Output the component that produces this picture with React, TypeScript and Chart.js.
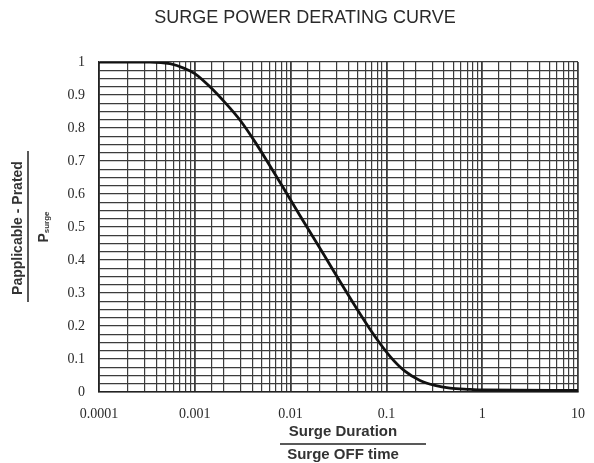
import React, { useEffect, useRef } from "react";
import { Chart, registerables } from "chart.js";

Chart.register(...registerables);

const durationRatio = [0.0001, 0.00034, 0.00055, 0.00079, 0.001, 0.00144, 0.00207, 0.003, 0.00425, 0.0061, 0.00875, 0.0125, 0.018, 0.0258, 0.037, 0.053, 0.076, 0.109, 0.156, 0.224, 0.321, 0.461, 0.75, 1, 10];
const powerRatio = [1, 1, 0.995, 0.98, 0.965, 0.925, 0.877, 0.822, 0.758, 0.685, 0.61, 0.535, 0.46, 0.385, 0.31, 0.237, 0.168, 0.108, 0.063, 0.035, 0.02, 0.012, 0.008, 0.006, 0.005];
const xTickLabels = ["0.0001", "0.001", "0.01", "0.1", "1", "10"];
const yTickLabels = ["0", "0.1", "0.2", "0.3", "0.4", "0.5", "0.6", "0.7", "0.8", "0.9", "1"];

const chartTitle = "SURGE POWER DERATING CURVE";
const xTitleTop = "Surge Duration";
const xTitleBottom = "Surge OFF time";
const yTitleTop = "Papplicable - Prated";
const yTitleBottomMain = "P";
const yTitleBottomSub = "surge";

const textPlugin = {
  id: "textPlugin",
  afterDraw(chart: any) {
    const ctx = chart.ctx;
    ctx.save();
    ctx.fillStyle = "#2a2a2a";
    ctx.textAlign = "center";
    ctx.textBaseline = "middle";
    ctx.font = "18px 'Liberation Sans', Arial, sans-serif";
    ctx.fillText(chartTitle, 305, 18);

    // x title fraction
    ctx.font = "bold 15px 'Liberation Sans', Arial, sans-serif";
    ctx.fillStyle = "#333";
    ctx.fillText(xTitleTop, 343, 432);
    ctx.fillText(xTitleBottom, 343, 455);
    ctx.strokeStyle = "#222";
    ctx.lineWidth = 1.5;
    ctx.beginPath();
    ctx.moveTo(280, 444);
    ctx.lineTo(426, 444);
    ctx.stroke();

    // y title fraction
    ctx.save();
    ctx.translate(18, 228);
    ctx.rotate(-Math.PI / 2);
    ctx.font = "bold 14px 'Liberation Sans', Arial, sans-serif";
    ctx.fillText(yTitleTop, 0, 0);
    ctx.restore();

    ctx.beginPath();
    ctx.moveTo(28, 151);
    ctx.lineTo(28, 302);
    ctx.stroke();

    ctx.save();
    ctx.translate(44, 227);
    ctx.rotate(-Math.PI / 2);
    ctx.font = "bold 14px 'Liberation Sans', Arial, sans-serif";
    const wMain = ctx.measureText(yTitleBottomMain).width;
    ctx.font = "bold 8px 'Liberation Sans', Arial, sans-serif";
    const wSub = ctx.measureText(yTitleBottomSub).width;
    const start = -(wMain + wSub) / 2;
    ctx.textAlign = "left";
    ctx.font = "bold 14px 'Liberation Sans', Arial, sans-serif";
    ctx.fillText(yTitleBottomMain, start, 0);
    ctx.font = "bold 8px 'Liberation Sans', Arial, sans-serif";
    ctx.fillText(yTitleBottomSub, start + wMain, 3);
    ctx.restore();

    ctx.restore();
  },
};

function isDecade(v: number) {
  const l = Math.log10(v);
  return Math.abs(l - Math.round(l)) < 1e-6;
}

export default function App() {
  const ref = useRef<HTMLCanvasElement | null>(null);
  useEffect(() => {
    if (!ref.current) return;
    const chart = new Chart(ref.current, {
      type: "line",
      data: {
        datasets: [
          {
            data: durationRatio.map((x, i) => ({ x, y: powerRatio[i] })),
            borderColor: "#111",
            borderWidth: 2.8,
            pointRadius: 0,
            cubicInterpolationMode: "monotone",
            fill: false,
          },
        ],
      },
      options: {
        animation: false,
        responsive: false,
        layout: { padding: { left: 0, top: 62, right: 16, bottom: 0 } },
        plugins: { legend: { display: false }, tooltip: { enabled: false }, title: { display: false } },
        scales: {
          x: {
            type: "logarithmic",
            min: 0.0001,
            max: 10,
            afterFit: (s: any) => {
              s.height = 71;
              s.paddingLeft = 0;
              s.paddingRight = 0;
            },
            border: { display: true, color: "#222", width: 1.5 },
            grid: {
              color: "#3c3c3c",
              lineWidth: (c: any) => (c.tick && isDecade(c.tick.value) ? 1.8 : 1.2),
              drawTicks: false,
            },
            ticks: {
              autoSkip: false,
              maxRotation: 0,
              padding: 14,
              color: "#2a2a2a",
              font: { family: "'Liberation Serif', 'Times New Roman', serif", size: 14 },
              callback: (v: any) => {
                const n = Number(v);
                if (!isDecade(n)) return "";
                return xTickLabels[Math.round(Math.log10(n)) + 4];
              },
            },
          },
          y: {
            type: "linear",
            min: 0,
            max: 1,
            afterFit: (s: any) => {
              s.width = 99;
              s.paddingTop = 0;
              s.paddingBottom = 0;
            },
            border: { display: true, color: "#222", width: 1.5 },
            grid: { color: "#3c3c3c", lineWidth: 1.2, drawTicks: false },
            ticks: {
              stepSize: 0.025,
              autoSkip: false,
              padding: 14,
              color: "#2a2a2a",
              font: { family: "'Liberation Serif', 'Times New Roman', serif", size: 14 },
              callback: (v: any) => {
                const n = Number(v) * 10;
                if (Math.abs(n - Math.round(n)) > 1e-6) return "";
                return yTickLabels[Math.round(n)];
              },
            },
          },
        },
      },
      plugins: [textPlugin],
    } as any);
    return () => chart.destroy();
  }, []);
  return (
    <div style={{ position: "fixed", left: 0, top: 0, width: 594, height: 463, background: "#fff" }}>
      <canvas ref={ref} width={594} height={463} style={{ display: "block" }} />
    </div>
  );
}
